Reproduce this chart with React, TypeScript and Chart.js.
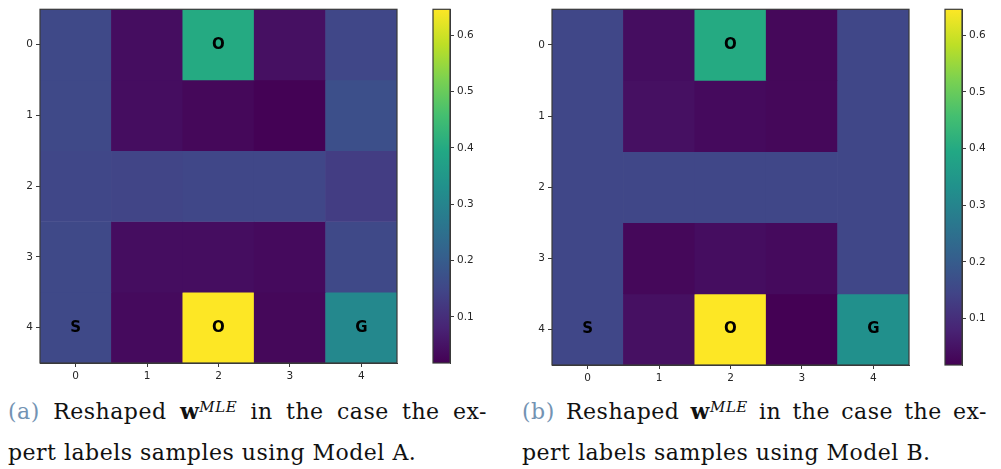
import React, { useEffect, useRef } from "react";
import { Chart, registerables } from "chart.js";

Chart.register(...registerables);

// ---------- data ----------
const ROWS = [0, 1, 2, 3, 4];
const COL_LABELS = ["0", "1", "2", "3", "4"];
const AXIS_TICKS = [0, 1, 2, 3, 4];
const COLORBAR_TICKS = [0.1, 0.2, 0.3, 0.4, 0.5, 0.6];
const VMIN = 0.018;
const VMAX = 0.646;

const VALUES_A = [
  [0.155, 0.04, 0.4, 0.045, 0.15],
  [0.155, 0.04, 0.03, 0.02, 0.17],
  [0.15, 0.145, 0.15, 0.15, 0.13],
  [0.155, 0.04, 0.04, 0.035, 0.155],
  [0.155, 0.035, 0.646, 0.03, 0.31],
];

const VALUES_B = [
  [0.15, 0.04, 0.4, 0.03, 0.15],
  [0.15, 0.045, 0.035, 0.03, 0.15],
  [0.15, 0.15, 0.15, 0.15, 0.15],
  [0.15, 0.03, 0.04, 0.035, 0.15],
  [0.15, 0.045, 0.646, 0.018, 0.33],
];

const MARK_ROWS = [0, 4, 4, 4];
const MARK_COLS = [2, 0, 2, 4];
const MARK_TEXTS = ["O", "S", "O", "G"];

// ---------- colormap ----------
const VIRIDIS = [
  "#440154", "#482475", "#414487", "#355f8d", "#2a788e", "#21918c",
  "#22a884", "#44bf70", "#7ad151", "#bddf26", "#fde725",
];

function hexToRgb(h: string) {
  return [parseInt(h.slice(1, 3), 16), parseInt(h.slice(3, 5), 16), parseInt(h.slice(5, 7), 16)];
}

function viridisT(t: number) {
  const tt = Math.max(0, Math.min(1, t)) * (VIRIDIS.length - 1);
  const i = Math.min(VIRIDIS.length - 2, Math.floor(tt));
  const f = tt - i;
  const a = hexToRgb(VIRIDIS[i]);
  const b = hexToRgb(VIRIDIS[i + 1]);
  const c = a.map((v, k) => Math.round(v + (b[k] - v) * f));
  return `rgb(${c[0]},${c[1]},${c[2]})`;
}

function colorFor(v: number) {
  return viridisT((v - VMIN) / (VMAX - VMIN));
}

const TICK_FONT = { family: "'DejaVu Sans', sans-serif", size: 10.5 };
const TICK_COLOR = "#262626";
const SPINE = "#3a3a3a";

const framePlugin = {
  id: "frame",
  afterDraw(chart: any) {
    const { ctx, chartArea } = chart;
    ctx.save();
    ctx.strokeStyle = SPINE;
    ctx.lineWidth = 1.2;
    ctx.strokeRect(chartArea.left, chartArea.top, chartArea.right - chartArea.left, chartArea.bottom - chartArea.top);
    ctx.restore();
  },
};

const marksPlugin = {
  id: "marks",
  afterDatasetsDraw(chart: any) {
    const { ctx, scales } = chart;
    ctx.save();
    ctx.fillStyle = "#000";
    ctx.font = "bold 15px 'DejaVu Sans', sans-serif";
    ctx.textAlign = "center";
    ctx.textBaseline = "middle";
    MARK_TEXTS.forEach((t, i) => {
      const x = scales.x.getPixelForValue(MARK_COLS[i]);
      const y = scales.y.getPixelForValue(MARK_ROWS[i]);
      ctx.fillText(t, x, y);
    });
    ctx.restore();
  },
};

type HeatProps = {
  values: number[][];
  left: number;
  top: number;
  width: number;
  height: number;
  padTop: number;
  padRight: number;
  yAxisWidth: number;
  xAxisHeight: number;
};

function Heatmap(p: HeatProps) {
  const ref = useRef<HTMLCanvasElement>(null);
  useEffect(() => {
    const chart = new Chart(ref.current as HTMLCanvasElement, {
      type: "bar",
      data: {
        labels: COL_LABELS,
        datasets: ROWS.map((r) => ({
          data: COL_LABELS.map(() => [r - 0.5, r + 0.5]),
          backgroundColor: p.values[r].map(colorFor),
          borderWidth: 0,
          grouped: false,
          barPercentage: 1,
          categoryPercentage: 1,
        })),
      } as any,
      options: {
        responsive: false,
        animation: false,
        layout: { padding: { top: p.padTop, right: p.padRight, left: 0, bottom: 0 } },
        plugins: { legend: { display: false }, tooltip: { enabled: false } },
        scales: {
          x: {
            type: "category",
            offset: true,
            grid: { display: true, drawOnChartArea: false, tickLength: 4, tickColor: SPINE, offset: false },
            border: { display: true, color: SPINE },
            ticks: { font: TICK_FONT, color: TICK_COLOR, padding: 3, maxRotation: 0 },
            afterFit: (s: any) => {
              s.height = p.xAxisHeight;
            },
          },
          y: {
            type: "linear",
            reverse: true,
            min: -0.5,
            max: 4.5,
            afterBuildTicks: (s: any) => {
              s.ticks = AXIS_TICKS.map((v) => ({ value: v }));
            },
            grid: { display: true, drawOnChartArea: false, tickLength: 4, tickColor: SPINE },
            border: { display: true, color: SPINE },
            ticks: { font: TICK_FONT, color: TICK_COLOR, padding: 3, callback: (v: any) => String(v) },
            afterFit: (s: any) => {
              s.width = p.yAxisWidth;
            },
          },
        },
      } as any,
      plugins: [framePlugin, marksPlugin],
    });
    return () => chart.destroy();
  }, []);
  return (
    <canvas
      ref={ref}
      width={p.width}
      height={p.height}
      style={{ position: "absolute", left: p.left, top: p.top, width: p.width, height: p.height }}
    />
  );
}

type CbProps = {
  left: number;
  top: number;
  width: number;
  height: number;
  padTop: number;
  padLeft: number;
  padBottom: number;
  axisWidth: number;
};

function Colorbar(p: CbProps) {
  const ref = useRef<HTMLCanvasElement>(null);
  useEffect(() => {
    const chart = new Chart(ref.current as HTMLCanvasElement, {
      type: "bar",
      data: {
        labels: [""],
        datasets: [
          {
            data: [[VMIN, VMAX]],
            backgroundColor: (c: any) => {
              const area = c.chart.chartArea;
              if (!area) return colorFor(0.3);
              const g = c.chart.ctx.createLinearGradient(0, area.bottom, 0, area.top);
              VIRIDIS.forEach((col, i) => g.addColorStop(i / (VIRIDIS.length - 1), col));
              return g;
            },
            borderWidth: 0,
            barPercentage: 1,
            categoryPercentage: 1,
          },
        ],
      } as any,
      options: {
        responsive: false,
        animation: false,
        layout: { padding: { top: p.padTop, left: p.padLeft, bottom: p.padBottom, right: 0 } },
        plugins: { legend: { display: false }, tooltip: { enabled: false } },
        scales: {
          x: { display: false },
          y: {
            type: "linear",
            position: "right",
            min: VMIN,
            max: VMAX,
            afterBuildTicks: (s: any) => {
              s.ticks = COLORBAR_TICKS.map((v) => ({ value: v }));
            },
            grid: { display: true, drawOnChartArea: false, tickLength: 4, tickColor: SPINE },
            border: { display: true, color: SPINE },
            ticks: { font: TICK_FONT, color: TICK_COLOR, padding: 3, callback: (v: any) => Number(v).toFixed(1) },
            afterFit: (s: any) => {
              s.width = p.axisWidth;
            },
          },
        },
      } as any,
      plugins: [framePlugin],
    });
    return () => chart.destroy();
  }, []);
  return (
    <canvas
      ref={ref}
      width={p.width}
      height={p.height}
      style={{ position: "absolute", left: p.left, top: p.top, width: p.width, height: p.height }}
    />
  );
}

const CAP_FONT = "'DejaVu Serif', serif";

function Caption(props: { left: number; top: number; width: number; tag: string; model: string }) {
  const line: React.CSSProperties = {
    fontFamily: CAP_FONT,
    fontSize: 22,
    letterSpacing: "0.5px",
    lineHeight: "41px",
    color: "#111",
    whiteSpace: "nowrap",
    width: props.width,
  };
  return (
    <div style={{ position: "absolute", left: props.left, top: props.top, width: props.width }}>
      <div style={{ ...line, textAlign: "justify", textAlignLast: "justify" as any }}>
        <span style={{ color: "#7393b3" }}>({props.tag})</span> Reshaped{" "}
        <span>
          <b>w</b>
          <sup style={{ fontStyle: "italic", fontSize: 15, verticalAlign: "0.5em", lineHeight: 0 }}>MLE</sup>
        </span>{" "}
        in the case the ex-
      </div>
      <div style={line}>pert labels samples using Model {props.model}.</div>
    </div>
  );
}

export default function App() {
  return (
    <div
      style={{
        position: "absolute",
        left: 0,
        top: 0,
        width: 1001,
        height: 469,
        overflow: "hidden",
        background: "#fff",
      }}
    >
      <Heatmap values={VALUES_A} left={0} top={0} width={410} height={390} padTop={7} padRight={13} yAxisWidth={40} xAxisHeight={27} />
      <Colorbar left={400} top={0} width={80} height={390} padTop={7} padLeft={33} padBottom={27} axisWidth={30} />
      <Heatmap values={VALUES_B} left={512} top={0} width={410} height={390} padTop={9} padRight={13} yAxisWidth={40} xAxisHeight={25} />
      <Colorbar left={912} top={0} width={80} height={390} padTop={9} padLeft={33} padBottom={25} axisWidth={30} />
      <Caption left={8} top={391} width={479} tag="a" model="A" />
      <Caption left={522} top={391} width={465} tag="b" model="B" />
    </div>
  );
}
